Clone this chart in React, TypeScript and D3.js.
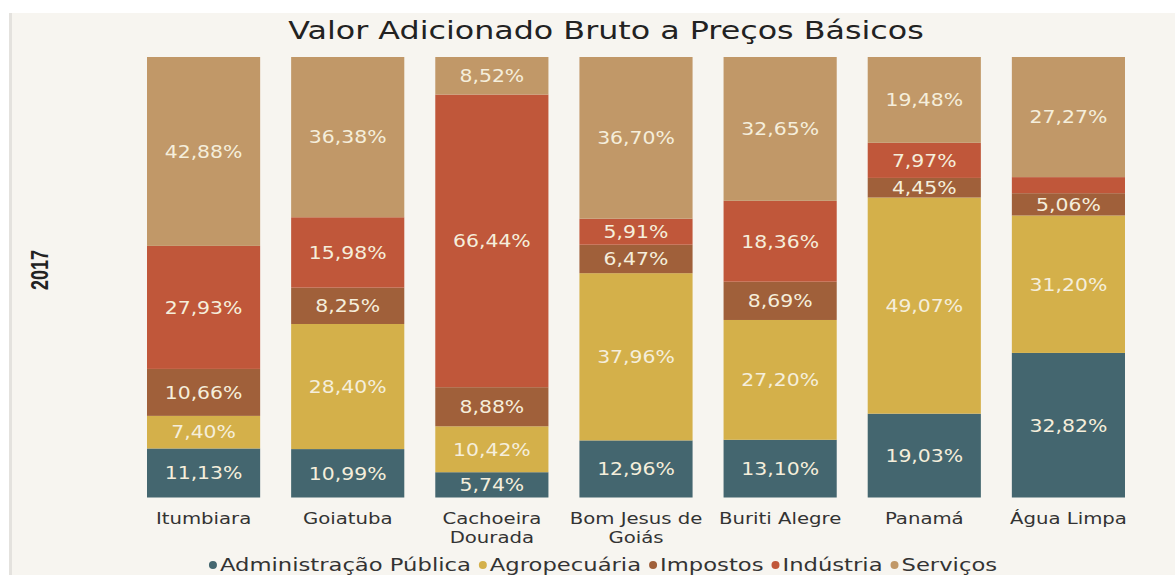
import React, { useEffect, useRef } from "react";
import * as d3 from "d3";

const categories = ["Itumbiara", "Goiatuba", "Cachoeira Dourada", "Bom Jesus de Goiás", "Buriti Alegre", "Panamá", "Água Limpa"];
const categoryLines = [["Itumbiara"], ["Goiatuba"], ["Cachoeira", "Dourada"], ["Bom Jesus de", "Goiás"], ["Buriti Alegre"], ["Panamá"], ["Água Limpa"]];
const seriesNames = ["Administração Pública", "Agropecuária", "Impostos", "Indústria", "Serviços"];
const adminPublica = [11.13, 10.99, 5.74, 12.96, 13.10, 19.03, 32.82];
const agropecuaria = [7.40, 28.40, 10.42, 37.96, 27.20, 49.07, 31.20];
const impostos = [10.66, 8.25, 8.88, 6.47, 8.69, 4.45, 5.06];
const industria = [27.93, 15.98, 66.44, 5.91, 18.36, 7.97, 3.65];
const servicos = [42.88, 36.38, 8.52, 36.70, 32.65, 19.48, 27.27];
const colors = ["#44666f", "#d4b04a", "#a0603a", "#c0573a", "#c19868"];
const title = "Valor Adicionado Bruto a Preços Básicos";
const yearLabel = "2017";

export default function App() {
  const ref = useRef<SVGSVGElement>(null);
  useEffect(() => {
    const svg = d3.select(ref.current);
    svg.selectAll("*").remove();
    const W = 1175, H = 575;
    const font = "'DejaVu Sans', Verdana, sans-serif";

    const addText = (parent: any, x: number, y: number, str: string, o: any) => {
      const g = parent.append("g").attr("transform", `translate(${x},${y}) scale(${o.sx ?? 1},1)`);
      const t = g.append("text").attr("x", 0).attr("y", 0).attr("text-anchor", o.anchor ?? "middle")
        .attr("font-family", o.family ?? font).attr("font-size", o.size).attr("fill", o.fill ?? "#333")
        .attr("font-weight", o.weight ?? "normal").text(str);
      return { g, t };
    };

    svg.append("rect").attr("x", 0).attr("y", 0).attr("width", W).attr("height", H).attr("fill", "#ffffff");
    svg.append("rect").attr("x", 9).attr("y", 13).attr("width", W - 9).attr("height", H - 13).attr("fill", "#f7f5f0");
    svg.append("rect").attr("x", 9).attr("y", 13).attr("width", 3).attr("height", H - 13).attr("fill", "#e4e2de");

    const values = [adminPublica, agropecuaria, impostos, industria, servicos];
    const rows = categories.map((c, i) => {
      const r: any = { cat: c };
      seriesNames.forEach((s, j) => (r[s] = values[j][i]));
      return r;
    });
    const stacked = d3.stack().keys(seriesNames)(rows);

    const x = d3.scaleBand().domain(categories).range([147, 1125]).paddingInner(0.215).paddingOuter(0);
    const y = d3.scaleLinear().domain([0, 100]).range([497.5, 57]);

    addText(svg, 606, 39, title, { size: 25, sx: 1.27, fill: "#222" });

    svg.append("text").attr("transform", "translate(48,270) rotate(-90) scale(1,1.3)").attr("text-anchor", "middle")
      .attr("font-family", "'Liberation Sans', Arial, sans-serif").attr("font-size", 18).attr("font-weight", "bold")
      .attr("fill", "#222").text(yearLabel);

    stacked.forEach((layer, j) => {
      const g = svg.append("g");
      layer.forEach((d: any, i) => {
        const y0 = y(d[0]), y1 = y(d[1]);
        g.append("rect").attr("x", x(categories[i])!).attr("width", x.bandwidth())
          .attr("y", y1).attr("height", y0 - y1).attr("fill", colors[j]);
        const v = values[j][i];
        if (v >= 4) {
          addText(g, x(categories[i])! + x.bandwidth() / 2, (y0 + y1) / 2 + 6.3,
            v.toFixed(2).replace(".", ",") + "%", { size: 17, sx: 1.2, fill: "#f5eedb" });
        }
      });
    });

    categoryLines.forEach((lines, i) => {
      lines.forEach((l, k) => {
        addText(svg, x(categories[i])! + x.bandwidth() / 2, 524 + k * 18.5, l, { size: 16, sx: 1.23, fill: "#333" });
      });
    });

    const lg = svg.append("g");
    let cx = 0;
    const sx = 1.26;
    seriesNames.forEach((s, j) => {
      lg.append("circle").attr("cx", cx + 4).attr("cy", -6).attr("r", 4).attr("fill", colors[j]);
      const { t } = addText(lg, cx + 11, 0, s, { size: 18, sx, anchor: "start", fill: "#333" });
      const w = 11 + (t.node() as SVGTextElement).getComputedTextLength() * sx + 8;
      cx += w;
    });
    const total = cx - 8;
    lg.attr("transform", `translate(${603 - total / 2},571)`);
  }, []);
  return (
    <svg ref={ref} width={1175} height={575} style={{ position: "absolute", left: 0, top: 0, display: "block" }} />
  );
}
